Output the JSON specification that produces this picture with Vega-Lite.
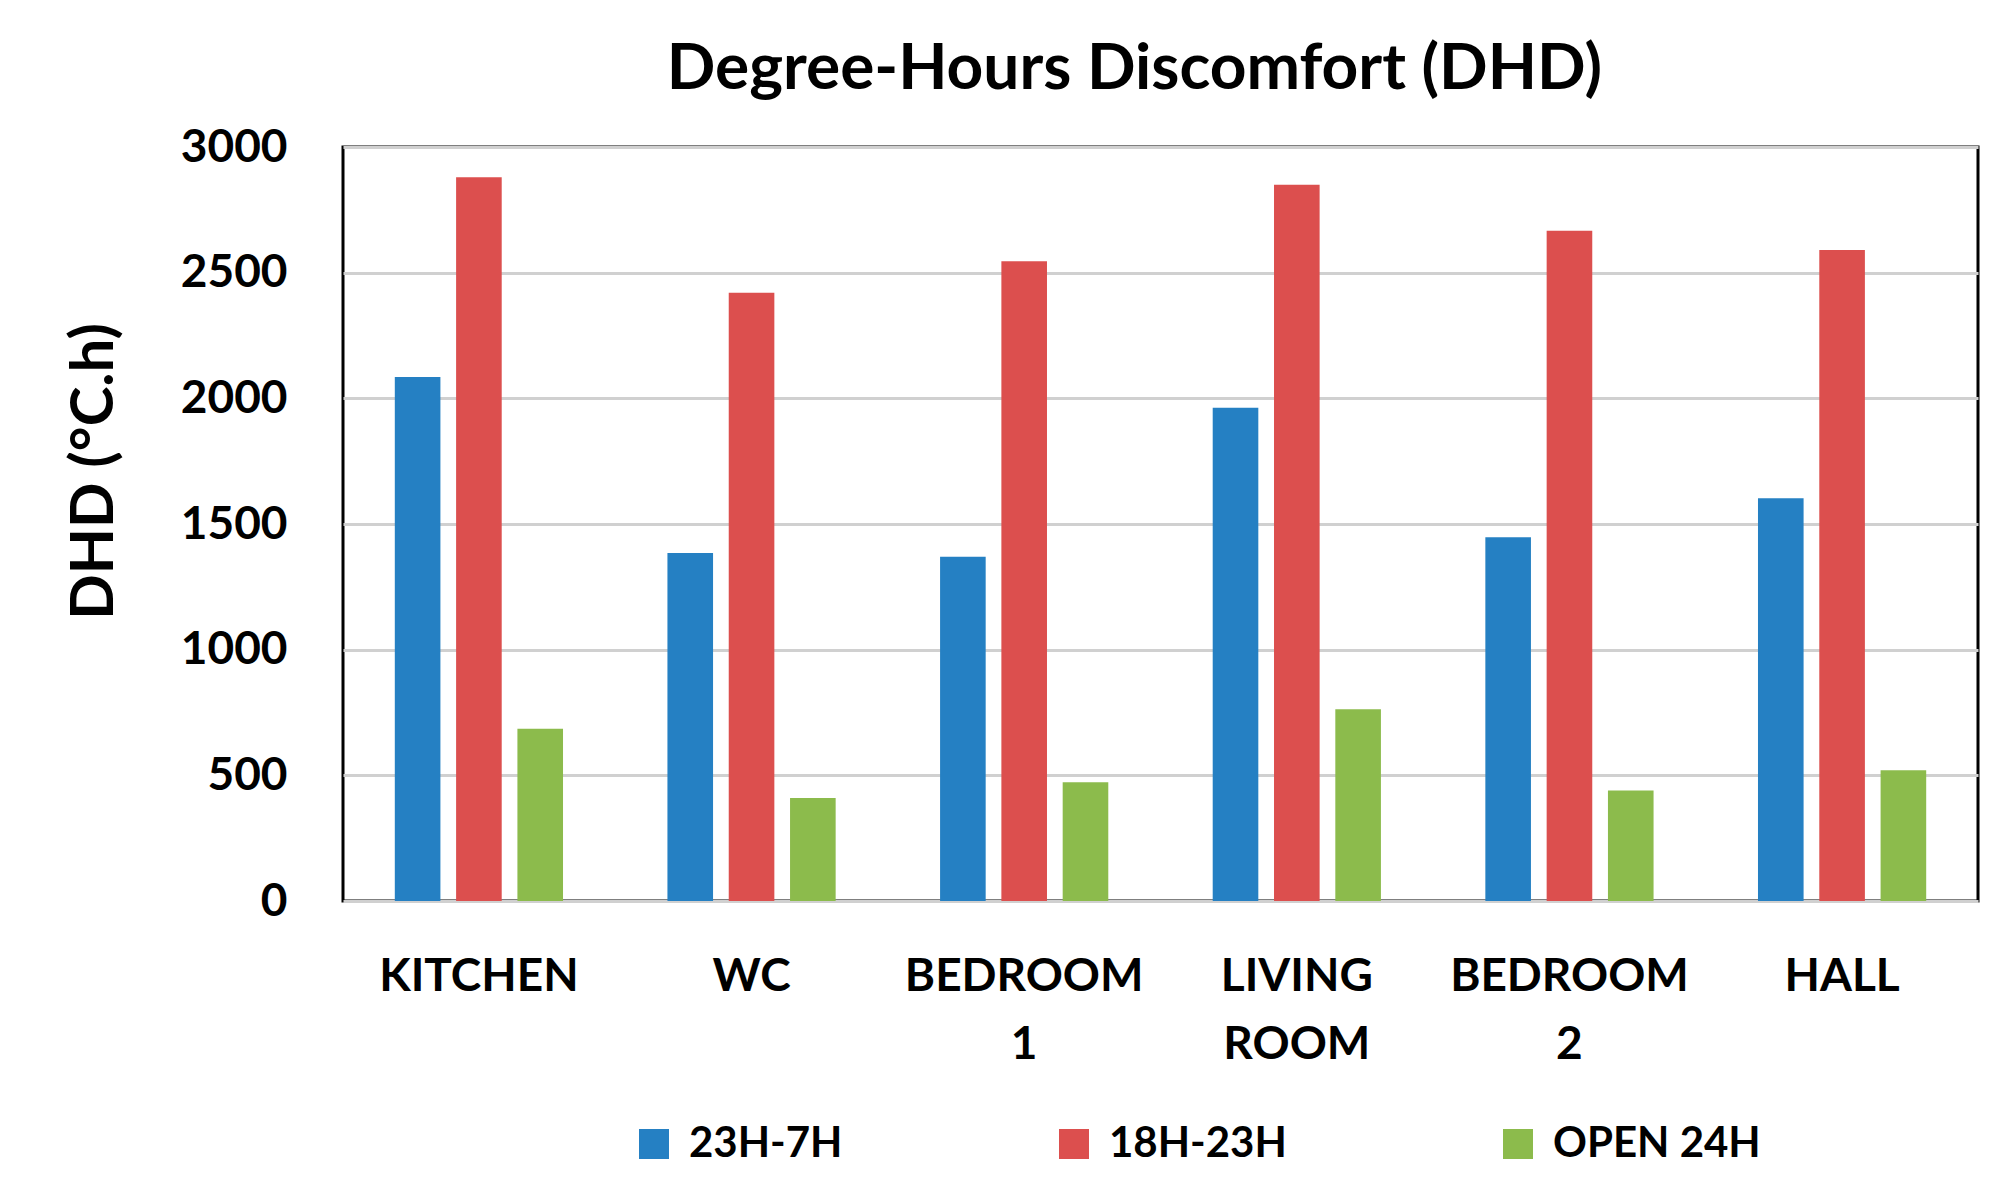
{
  "$schema": "https://vega.github.io/schema/vega-lite/v6.json",
  "width": 1635,
  "height": 754,
  "autosize": {"type": "none"},
  "padding": {"left": 343, "top": 147, "right": 37, "bottom": 299},
  "background": "white",
  "title": {
    "text": "Degree-Hours Discomfort (DHD)",
    "font": "Lato",
    "fontSize": 64,
    "fontWeight": "bold",
    "color": "#000000",
    "anchor": "middle",
    "frame": "group",
    "baseline": "alphabetic",
    "dx": -26,
    "dy": 83,
    "offset": 54
  },
  "data": {
    "values": [
      {"room": "KITCHEN", "period": "23H-7H", "value": 2085},
      {"room": "KITCHEN", "period": "18H-23H", "value": 2880},
      {"room": "KITCHEN", "period": "OPEN 24H", "value": 685},
      {"room": "WC", "period": "23H-7H", "value": 1385},
      {"room": "WC", "period": "18H-23H", "value": 2420},
      {"room": "WC", "period": "OPEN 24H", "value": 410},
      {"room": "BEDROOM 1", "period": "23H-7H", "value": 1370},
      {"room": "BEDROOM 1", "period": "18H-23H", "value": 2545},
      {"room": "BEDROOM 1", "period": "OPEN 24H", "value": 472},
      {"room": "LIVING ROOM", "period": "23H-7H", "value": 1963},
      {"room": "LIVING ROOM", "period": "18H-23H", "value": 2850},
      {"room": "LIVING ROOM", "period": "OPEN 24H", "value": 763},
      {"room": "BEDROOM 2", "period": "23H-7H", "value": 1447},
      {"room": "BEDROOM 2", "period": "18H-23H", "value": 2667},
      {"room": "BEDROOM 2", "period": "OPEN 24H", "value": 440},
      {"room": "HALL", "period": "23H-7H", "value": 1602},
      {"room": "HALL", "period": "18H-23H", "value": 2590},
      {"room": "HALL", "period": "OPEN 24H", "value": 520}
    ]
  },
  "mark": {"type": "bar"},
  "encoding": {
    "x": {
      "field": "room",
      "type": "nominal",
      "sort": ["KITCHEN", "WC", "BEDROOM 1", "LIVING ROOM", "BEDROOM 2", "HALL"],
      "scale": {"paddingInner": 0.383, "paddingOuter": 0.19},
      "axis": {
        "title": null,
        "labelAngle": 0,
        "labelExpr": "split(datum.label, ' ')",
        "labelFont": "Lato",
        "labelFontSize": 46,
        "labelFontWeight": "bold",
        "labelColor": "#000000",
        "labelLineHeight": 68,
        "labelPadding": 53,
        "labelBaseline": "top",
        "labelLimit": 500,
        "ticks": false,
        "tickSize": 0,
        "domain": false,
        "grid": false
      }
    },
    "xOffset": {
      "field": "period",
      "type": "nominal",
      "sort": ["23H-7H", "18H-23H", "OPEN 24H"],
      "scale": {"paddingInner": 0.256, "paddingOuter": 0}
    },
    "y": {
      "field": "value",
      "type": "quantitative",
      "scale": {"domain": [0, 3000], "nice": false},
      "axis": {
        "values": [0, 500, 1000, 1500, 2000, 2500, 3000],
        "format": "d",
        "title": "DHD (°C.h)",
        "titleFont": "Lato",
        "titleFontSize": 60,
        "titleFontWeight": "bold",
        "titleColor": "#000000",
        "titleAngle": -90,
        "titleX": -231,
        "titleY": 324,
        "titleAlign": "center",
        "titleBaseline": "alphabetic",
        "labelFont": "Lato",
        "labelFontSize": 46,
        "labelFontWeight": "bold",
        "labelColor": "#000000",
        "labelPadding": 56,
        "ticks": false,
        "tickSize": 0,
        "domain": false,
        "grid": true,
        "gridColor": "#D0D0D0",
        "gridWidth": 3
      }
    },
    "color": {
      "field": "period",
      "type": "nominal",
      "sort": ["23H-7H", "18H-23H", "OPEN 24H"],
      "scale": {
        "domain": ["23H-7H", "18H-23H", "OPEN 24H"],
        "range": ["#2580C3", "#DC4F4E", "#8CBB4C"]
      },
      "legend": {
        "title": null,
        "orient": "none",
        "legendX": 290,
        "legendY": 976,
        "direction": "horizontal",
        "columnPadding": 210,
        "symbolType": "square",
        "symbolSize": 900,
        "symbolStrokeWidth": 0,
        "labelOffset": 14,
        "labelFont": "Lato",
        "labelFontSize": 42,
        "labelFontWeight": "bold",
        "labelColor": "#000000",
        "labelLimit": 500
      }
    }
  },
  "config": {
    "view": {"stroke": "#000000", "strokeWidth": 3}
  }
}
